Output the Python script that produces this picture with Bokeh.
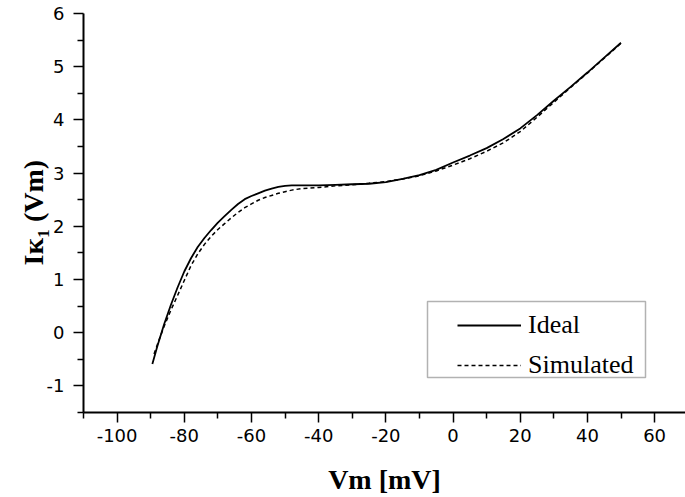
from math import pi
from bokeh.plotting import figure
from bokeh.models import (FixedTicker, Label, BoxAnnotation, Legend, LegendItem,
                          Range1d)
from bokeh.embed import file_html
from bokeh.resources import INLINE

# ---- data ----
vm_ideal = [-89.5, -88, -86, -84, -82, -80, -78, -76, -74, -72, -70, -68, -66, -64,
            -62, -60, -58, -56, -54, -52, -50, -48, -45, -40, -35, -30, -25, -20,
            -15, -10, -5, 0, 5, 10, 15, 20, 25, 30, 35, 40, 45, 50]
ik1_ideal = [-0.59, -0.25, 0.16, 0.52, 0.85, 1.15, 1.40, 1.61, 1.78, 1.93, 2.07, 2.19,
             2.31, 2.42, 2.51, 2.57, 2.62, 2.67, 2.71, 2.74, 2.76, 2.77, 2.77, 2.77,
             2.78, 2.79, 2.80, 2.83, 2.89, 2.96, 3.06, 3.20, 3.33, 3.47, 3.64, 3.84,
             4.09, 4.36, 4.62, 4.89, 5.17, 5.45]
vm_sim = [-89, -88, -86, -84, -82, -80, -78, -76, -74, -72, -70, -68, -66, -64,
          -62, -60, -58, -56, -54, -52, -50, -48, -45, -40, -35, -30, -25, -20,
          -15, -10, -5, 0, 5, 10, 15, 20, 25, 30, 35, 40, 45, 50]
ik1_sim = [-0.40, -0.22, 0.12, 0.42, 0.70, 0.98, 1.26, 1.48, 1.66, 1.81, 1.94, 2.05,
           2.16, 2.26, 2.35, 2.42, 2.49, 2.54, 2.58, 2.62, 2.65, 2.68, 2.71, 2.73,
           2.76, 2.78, 2.81, 2.84, 2.89, 2.95, 3.04, 3.15, 3.27, 3.41, 3.57, 3.78,
           4.05, 4.33, 4.61, 4.88, 5.16, 5.44]
series_labels = ["Ideal", "Simulated"]
x_major = [-100, -80, -60, -40, -20, 0, 20, 40, 60]
x_minor = [-110, -90, -70, -50, -30, -10, 10, 30, 50, 70]
y_major = [-1, 0, 1, 2, 3, 4, 5, 6]
y_minor = [-1.5, -0.5, 0.5, 1.5, 2.5, 3.5, 4.5, 5.5]
x_title = "Vm [mV]"
y_title = "I\u1d0b\u2081 (Vm)"

p = figure(width=685, height=497, output_backend="svg", toolbar_location=None,
           x_range=Range1d(-110, 69.2), y_range=Range1d(-1.5, 6),
           min_border_left=83, min_border_right=0, min_border_top=13,
           min_border_bottom=83)
p.outline_line_color = None
p.grid.visible = False
p.background_fill_color = "white"
p.border_fill_color = "white"

for ax, ticks in ((p.xaxis[0], x_major), (p.yaxis[0], y_major)):
    ax.axis_line_width = 2
    ax.axis_line_color = "black"
    ax.major_tick_line_width = 1.5
    ax.minor_tick_line_width = 1.5
    ax.major_tick_out = 10
    ax.major_tick_in = 0
    ax.minor_tick_out = 6
    ax.minor_tick_in = 0
    ax.major_label_text_font = "DejaVu Sans"
    ax.major_label_text_font_size = "18px"
    ax.major_label_text_color = "black"
    ax.major_label_overrides = {t: str(t) for t in ticks}

p.xaxis[0].ticker = FixedTicker(ticks=x_major, minor_ticks=x_minor)
p.yaxis[0].ticker = FixedTicker(ticks=y_major, minor_ticks=y_minor)
p.xaxis[0].major_label_standoff = 6
p.yaxis[0].major_label_standoff = 9

p.xaxis[0].axis_label = x_title
p.xaxis[0].axis_label_text_font = "Liberation Serif"
p.xaxis[0].axis_label_text_font_style = "bold"
p.xaxis[0].axis_label_text_font_size = "28px"
p.xaxis[0].axis_label_text_color = "black"
p.xaxis[0].axis_label_standoff = 19

r1 = p.line(vm_ideal, ik1_ideal, line_color="black", line_width=1.8)
r2 = p.line(vm_sim, ik1_sim, line_color="black", line_width=1.5, line_dash="4 3")

# y-axis title, placed in canvas pixels in the left panel
p.add_layout(Label(x=33, y=265, x_units="canvas", y_units="canvas", angle=pi / 2,
                   text=y_title, text_font_size="28px", text_color="black",
                   text_font="Liberation Serif", text_font_style="bold",
                   text_align="left", text_baseline="alphabetic"), "left")

legend = Legend(items=[LegendItem(label=series_labels[0], renderers=[r1]),
                       LegendItem(label=series_labels[1], renderers=[r2])],
                location=(374, 29), padding=0, spacing=4, glyph_width=64,
                glyph_height=36, label_height=36, label_standoff=7,
                label_text_font="Liberation Serif", label_text_font_size="26px",
                label_text_color="black", border_line_alpha=0,
                background_fill_alpha=0)
p.add_layout(legend)
p.add_layout(BoxAnnotation(left=344, right=562, top=111, bottom=35,
                           left_units="screen", right_units="screen",
                           top_units="screen", bottom_units="screen",
                           fill_alpha=0, line_color="black", line_width=1.5))

open("out.html", "w").write(file_html(p, INLINE))
